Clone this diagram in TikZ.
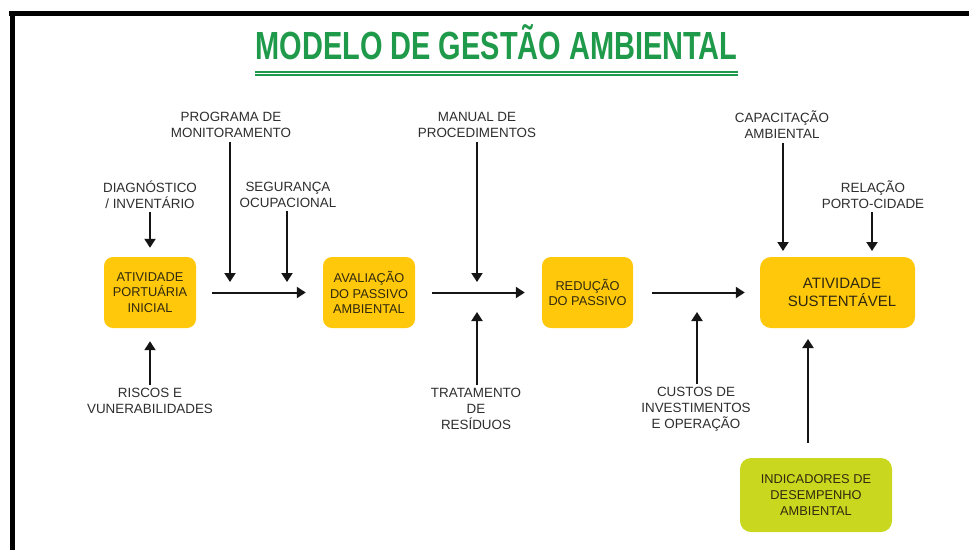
\documentclass[tikz,border=0pt]{standalone}
\usepackage{fontspec}
\usepackage{graphicx}
\setmainfont{Liberation Sans}
\usetikzlibrary{arrows.meta}
\definecolor{titlegreen}{HTML}{1E9A4A}
\definecolor{boxyellow}{HTML}{FFC80A}
\definecolor{boxlime}{HTML}{C9D81E}
\definecolor{boxtext}{HTML}{30290F}
\definecolor{labelgray}{HTML}{2E2E2E}
\definecolor{arrowblack}{HTML}{151515}
\tikzset{
  ybox/.style={fill=boxyellow, rounded corners=9pt, align=center, text=boxtext,
    minimum width=92pt, minimum height=71pt, inner sep=0pt,
    font=\fontsize{12.8}{15.5}\selectfont},
  lbl/.style={align=center, text=labelgray, inner sep=1pt,
    font=\fontsize{13.4}{16}\selectfont},
  arr/.style={draw=arrowblack, line width=2pt, -{Triangle[width=11pt,length=9pt]}},
}
\begin{document}
\begin{tikzpicture}[x=1pt,y=-1pt]
\useasboundingbox (0,0) rectangle (969,550);
\fill[white] (0,0) rectangle (969,550);
% frame
\fill[black] (9,11) rectangle (969,15.5);
\fill[black] (9.5,11) rectangle (15,550);
% title
\node[anchor=base, text=titlegreen, inner sep=0pt] (title) at (496.5,59)
  {\resizebox{482pt}{27pt}{\fontsize{20}{20}\selectfont\bfseries\smash{MODELO DE GESTÃO AMBIENTAL}\vphantom{M}}};
\fill[titlegreen] (255,70.5) rectangle (737.5,72.5);
\fill[titlegreen] (255,73.8) rectangle (737.5,75.5);
% boxes
\node[ybox] (b1) at (150,292.5) {ATIVIDADE\\PORTUÁRIA\\INICIAL};
\node[ybox] (b2) at (369,292.5) {AVALIAÇÃO\\DO PASSIVO\\AMBIENTAL};
\node[ybox, minimum width=91pt] (b3) at (587.5,292.5) {REDUÇÃO\\DO PASSIVO};
\node[ybox, minimum width=155pt, rounded corners=11pt] (b4) at (837.5,292.5) {};
\node[align=center, text=boxtext, inner sep=0pt, font=\fontsize{15}{17.5}\selectfont] (b4t) at (842,292.5) {ATIVIDADE\\SUSTENTÁVEL};
\node[ybox, fill=boxlime, minimum width=152pt, minimum height=74pt, rounded corners=11pt, font=\fontsize{12.8}{16.3}\selectfont] (b5) at (816,495) {INDICADORES DE\\DESEMPENHO\\AMBIENTAL};
% labels
\node[lbl] (diag) at (150,195) {DIAGNÓSTICO\\/ INVENTÁRIO};
\node[lbl] (risc) at (150,401) {RISCOS E\\VUNERABILIDADES};
\node[lbl] (prog) at (231,125) {PROGRAMA DE\\MONITORAMENTO};
\node[lbl] (segu) at (288,195) {SEGURANÇA\\OCUPACIONAL};
\node[lbl] (manu) at (477,125) {MANUAL DE\\PROCEDIMENTOS};
\node[lbl] (trat) at (476,409) {TRATAMENTO\\DE\\RESÍDUOS};
\node[lbl] (cust) at (696,409) {CUSTOS DE\\INVESTIMENTOS\\E OPERAÇÃO};
\node[lbl] (capa) at (782,125) {CAPACITAÇÃO\\AMBIENTAL};
\node[lbl] (rela) at (873,195) {RELAÇÃO\\PORTO-CIDADE};
% arrow end points
\coordinate (p1) at (230,282);
\coordinate (p2) at (287,282);
\coordinate (m1) at (477,282);
\coordinate (t1) at (477,312);
\coordinate (c1) at (697,312);
\coordinate (k1) at (783,251);
\coordinate (r1) at (872,251);
\coordinate (i0) at (808,443);
\coordinate (i1) at (808,339);
% main flow
\draw[arr] ([xshift=16pt]b1.east) -- ([xshift=-17pt]b2.west);
\draw[arr] ([xshift=17pt]b2.east) -- ([xshift=-17pt]b3.west);
\draw[arr] ([xshift=19pt]b3.east) -- ([xshift=-15pt]b4.west);
% inputs
\draw[arr] ([yshift=-2pt]diag.south) -- ([yshift=9pt]b1.north);
\draw[arr] ([yshift=2pt]risc.north) -- ([yshift=-13pt]b1.south);
\draw[arr] ([yshift=-3pt]prog.south -| p1) -- (p1);
\draw[arr] ([yshift=-2pt]segu.south -| p2) -- (p2);
\draw[arr] ([yshift=-3pt]manu.south -| m1) -- (m1);
\draw[arr] ([yshift=2pt]trat.north -| t1) -- (t1);
\draw[arr] ([yshift=2pt]cust.north -| c1) -- (c1);
\draw[arr] ([yshift=-3pt]capa.south -| k1) -- (k1);
\draw[arr] ([yshift=-2pt]rela.south -| r1) -- (r1);
\draw[arr] (i0) -- (i1);
\end{tikzpicture}
\end{document}
